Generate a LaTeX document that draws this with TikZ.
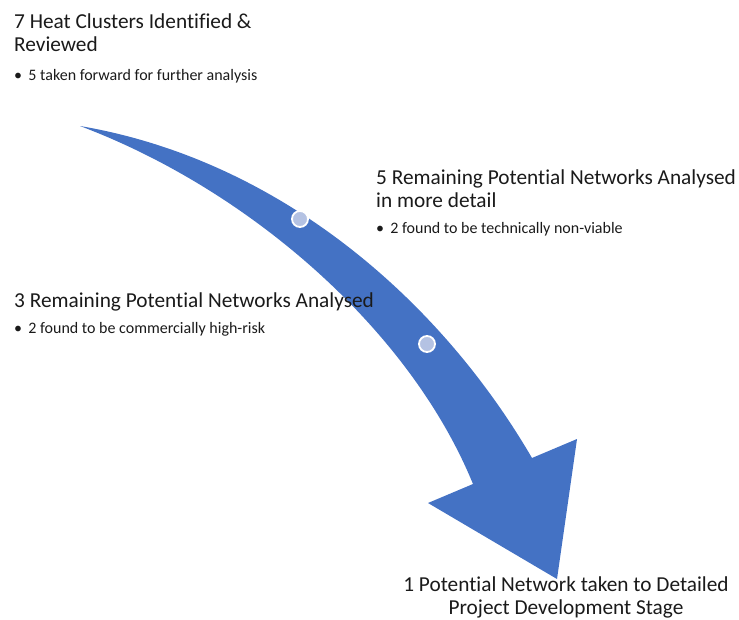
\documentclass[tikz,border=0pt]{standalone}
\usepackage{fontspec}
\setmainfont{Carlito}[Ligatures=NoCommon]
\usepackage{tikz}
\usetikzlibrary{positioning}

\definecolor{arrowblue}{HTML}{4472C4}
\definecolor{dotblue}{HTML}{B4C2E3}
\definecolor{txt}{HTML}{1A1A1A}

\tikzset{
  head/.style={anchor=base west,inner sep=0pt,text=txt,font=\fontsize{21.3}{23}\selectfont,align=left},
  bullet/.style={anchor=base west,inner sep=0pt,text=txt,font=\fontsize{16}{18}\selectfont},
  dot/.style={circle,fill=dotblue,draw=white,line width=1.8pt,minimum size=16pt,inner sep=0pt}
}

\begin{document}
\begin{tikzpicture}[x=1pt,y=-1pt]
  \useasboundingbox (0,0) rectangle (739,619);

  % curved arrow
  \fill[arrowblue] (80,126) .. controls (280,160) and (440,300) .. (532,458)
    -- (577,439) -- (557,579) -- (428,503) -- (473,484)
    .. controls (410,330) and (250,190) .. (80,126) -- cycle;

  % stage markers
  \node[dot] (m1) at (300,219) {};
  \node[dot] (m2) at (427,344) {};

  % stage texts (base anchor = last line)
  \node[head] (s1) at (14,51) {7 Heat Clusters Identified \&\\Reviewed};
  \node[bullet] (s1b) at (14,80) {\textbullet\ \,5 taken forward for further analysis};

  \node[head] (s2) at (376,207) {5 Remaining Potential Networks Analysed\\in more detail};
  \node[bullet] (s2b) at (376,233) {\textbullet\ \,2 found to be technically non-viable};

  \node[head] (s3) at (14,307) {3 Remaining Potential Networks Analysed};
  \node[bullet] (s3b) at (14,333) {\textbullet\ \,2 found to be commercially high-risk};

  \node[head,anchor=base,align=center] (s4) at (566,614) {1 Potential Network taken to Detailed\\Project Development Stage};
\end{tikzpicture}
\end{document}
